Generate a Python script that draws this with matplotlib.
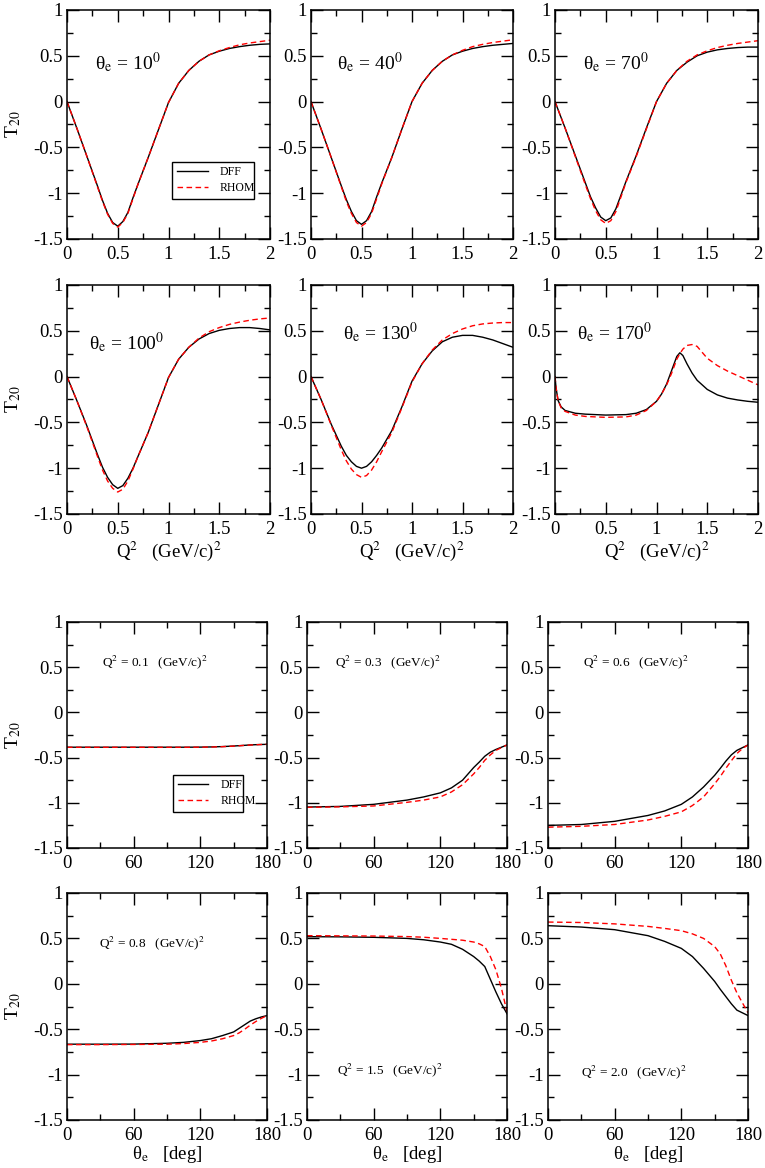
import matplotlib
matplotlib.use('Agg')
import matplotlib.pyplot as plt
from matplotlib.ticker import MultipleLocator, FormatStrFormatter

plt.rcParams['font.family'] = ['Liberation Serif', 'DejaVu Serif']
plt.rcParams['mathtext.fontset'] = 'stix'
plt.rcParams['axes.unicode_minus'] = False

# ---- data: T20 versus Q^2 at fixed electron angle ----
q2 = [0, 0.1, 0.2, 0.3, 0.35, 0.4, 0.45, 0.5, 0.55, 0.6, 0.65, 0.7, 0.8,
      0.9, 1.0, 1.1, 1.2, 1.3, 1.4, 1.5, 1.6, 1.7, 1.8, 1.9, 2.0]
q2_170 = [0, 0.01, 0.03, 0.06, 0.1, 0.2, 0.3, 0.5, 0.7, 0.8, 0.9, 1.0, 1.05,
          1.1, 1.15, 1.2, 1.23, 1.26, 1.3, 1.35, 1.4, 1.5, 1.6, 1.7, 1.8,
          1.9, 2.0]
theta_labels = ['10', '40', '70', '100', '130', '170']

dff_10 = [0, -0.30, -0.61, -0.92, -1.08, -1.22, -1.32, -1.36, -1.31, -1.21,
          -1.05, -0.90, -0.61, -0.31, -0.01, 0.20, 0.34, 0.44, 0.51, 0.55,
          0.58, 0.60, 0.615, 0.625, 0.63]
rhom_10 = [0, -0.30, -0.61, -0.93, -1.09, -1.23, -1.33, -1.37, -1.32, -1.22,
           -1.06, -0.90, -0.61, -0.31, -0.01, 0.20, 0.34, 0.44, 0.51, 0.555,
           0.59, 0.62, 0.64, 0.655, 0.67]
dff_40 = [0, -0.30, -0.61, -0.92, -1.07, -1.20, -1.30, -1.34, -1.30, -1.20,
          -1.04, -0.89, -0.61, -0.30, 0.0, 0.20, 0.34, 0.44, 0.51, 0.55, 0.58,
          0.60, 0.615, 0.625, 0.635]
rhom_40 = [0, -0.30, -0.61, -0.93, -1.09, -1.22, -1.32, -1.36, -1.32, -1.22,
           -1.06, -0.90, -0.61, -0.30, 0.0, 0.20, 0.34, 0.44, 0.51, 0.56, 0.60,
           0.625, 0.645, 0.66, 0.675]
dff_70 = [0, -0.29, -0.59, -0.89, -1.04, -1.16, -1.26, -1.30, -1.27, -1.17,
          -1.02, -0.87, -0.59, -0.29, 0.0, 0.20, 0.34, 0.43, 0.50, 0.54, 0.565,
          0.58, 0.59, 0.595, 0.595]
rhom_70 = [0, -0.29, -0.60, -0.91, -1.06, -1.19, -1.29, -1.33, -1.30, -1.20,
           -1.04, -0.88, -0.60, -0.30, 0.0, 0.20, 0.34, 0.44, 0.51, 0.555,
           0.59, 0.615, 0.635, 0.65, 0.665]
dff_100 = [0, -0.27, -0.55, -0.85, -0.99, -1.10, -1.18, -1.22, -1.19, -1.11,
           -1.00, -0.87, -0.61, -0.31, -0.01, 0.19, 0.32, 0.41, 0.47, 0.505,
           0.525, 0.535, 0.535, 0.525, 0.51]
rhom_100 = [0, -0.27, -0.56, -0.87, -1.02, -1.14, -1.22, -1.26, -1.23, -1.14,
            -1.01, -0.87, -0.61, -0.31, -0.01, 0.19, 0.32, 0.42, 0.49, 0.535,
            0.57, 0.595, 0.615, 0.63, 0.64]
dff_130 = [0, -0.25, -0.52, -0.76, -0.86, -0.93, -0.98, -1.0, -0.98, -0.93,
           -0.86, -0.78, -0.59, -0.33, -0.05, 0.14, 0.28, 0.38, 0.43, 0.45,
           0.45, 0.43, 0.40, 0.36, 0.32]
rhom_130 = [0, -0.25, -0.53, -0.80, -0.92, -1.01, -1.07, -1.10, -1.08, -1.02,
            -0.93, -0.82, -0.61, -0.34, -0.06, 0.14, 0.29, 0.40, 0.47, 0.52,
            0.555, 0.575, 0.585, 0.59, 0.59]
dff_170 = [0, -0.12, -0.26, -0.33, -0.37, -0.40, -0.41, -0.42, -0.415, -0.40,
           -0.36, -0.27, -0.19, -0.08, 0.07, 0.22, 0.26, 0.23, 0.14, 0.04,
           -0.04, -0.14, -0.20, -0.235, -0.255, -0.27, -0.28]
rhom_170 = [0, -0.12, -0.26, -0.34, -0.38, -0.42, -0.435, -0.445, -0.44, -0.42,
            -0.37, -0.27, -0.19, -0.09, 0.04, 0.19, 0.25, 0.30, 0.34, 0.35,
            0.33, 0.20, 0.12, 0.06, 0.01, -0.04, -0.09]

# ---- data: T20 versus electron angle at fixed Q^2 ----
theta = [0, 30, 60, 90, 105, 120, 130, 140, 150, 155, 160, 165, 170, 175, 180]
q2_labels = ['0.1', '0.3', '0.6', '0.8', '1.5', '2.0']

dff_q01 = [-0.385, -0.385, -0.385, -0.385, -0.385, -0.384, -0.382, -0.378,
           -0.372, -0.368, -0.364, -0.36, -0.357, -0.355, -0.353]
rhom_q01 = [-0.386, -0.386, -0.386, -0.386, -0.386, -0.385, -0.383, -0.379,
            -0.373, -0.369, -0.365, -0.361, -0.358, -0.355, -0.353]
dff_q03 = [-1.047, -1.04, -1.017, -0.97, -0.935, -0.89, -0.835, -0.75, -0.61,
           -0.55, -0.485, -0.44, -0.41, -0.385, -0.36]
rhom_q03 = [-1.05, -1.045, -1.035, -0.995, -0.97, -0.935, -0.88, -0.80, -0.68,
            -0.61, -0.53, -0.47, -0.42, -0.39, -0.36]
dff_q06 = [-1.25, -1.24, -1.205, -1.14, -1.09, -1.017, -0.935, -0.825, -0.696,
           -0.62, -0.54, -0.47, -0.42, -0.39, -0.36]
rhom_q06 = [-1.27, -1.26, -1.24, -1.19, -1.15, -1.10, -1.03, -0.935, -0.79,
            -0.71, -0.62, -0.535, -0.455, -0.40, -0.36]
dff_q08 = [-0.665, -0.665, -0.664, -0.655, -0.645, -0.625, -0.605, -0.57, -0.53,
           -0.49, -0.45, -0.41, -0.385, -0.365, -0.35]
rhom_q08 = [-0.67, -0.67, -0.668, -0.665, -0.658, -0.645, -0.63, -0.605, -0.57,
            -0.54, -0.50, -0.455, -0.415, -0.38, -0.35]
dff_q15 = [0.519, 0.517, 0.512, 0.50, 0.485, 0.46, 0.435, 0.38, 0.30, 0.25,
           0.19, 0.05, -0.09, -0.22, -0.33]
rhom_q15 = [0.53, 0.528, 0.526, 0.52, 0.513, 0.50, 0.49, 0.48, 0.46, 0.44,
            0.41, 0.30, 0.155, -0.05, -0.31]
dff_q20 = [0.64, 0.625, 0.596, 0.53, 0.467, 0.39, 0.30, 0.17, 0.026, -0.06,
           -0.14, -0.22, -0.29, -0.32, -0.35]
rhom_q20 = [0.68, 0.675, 0.66, 0.632, 0.61, 0.585, 0.55, 0.50, 0.41, 0.33,
            0.20, 0.04, -0.10, -0.21, -0.32]

W, H = 765, 1168


def make_axes(fig, x0, y0, x1, y1):
    return fig.add_axes([x0 / W, 1 - y1 / H, (x1 - x0) / W, (y1 - y0) / H])


def style(ax, xmax, xmajor, xminor):
    ax.set_xlim(0, xmax)
    ax.set_ylim(-1.5, 1)
    ax.xaxis.set_major_locator(MultipleLocator(xmajor))
    ax.xaxis.set_minor_locator(MultipleLocator(xminor))
    ax.yaxis.set_major_locator(MultipleLocator(0.5))
    ax.yaxis.set_minor_locator(MultipleLocator(0.25))
    ax.xaxis.set_major_formatter(FormatStrFormatter('%g'))
    ax.yaxis.set_major_formatter(FormatStrFormatter('%g'))
    ax.tick_params(which='both', direction='in', top=True, right=True,
                   width=1.0, labelsize=13.5)
    ax.tick_params(axis='x', pad=5)
    ax.tick_params(axis='y', pad=3)
    ax.tick_params(which='major', length=8.5)
    ax.tick_params(which='minor', length=4.5)
    for s in ax.spines.values():
        s.set_linewidth(1.1)


def curves(ax, x, dff, rhom):
    ax.plot(x, dff, color='black', lw=1.0, label='DFF')
    ax.plot(x, rhom, color='red', lw=1.0, ls=(0, (4, 2.5)), label='RHOM')


def add_legend(ax, box):
    leg = ax.legend(loc='lower left', bbox_to_anchor=box, mode='expand',
                    fontsize=8.5, frameon=True, fancybox=False,
                    edgecolor='black', framealpha=1, handlelength=2.6,
                    borderpad=0.4, labelspacing=0.3, handletextpad=1.0)
    leg.get_frame().set_linewidth(1.0)


fig = plt.figure(figsize=(W / 100, H / 100), dpi=100)

top_cols = [(67, 270), (311, 513), (555, 758)]
top_rows = [(10, 239), (285, 514)]
top_x = [q2, q2, q2, q2, q2, q2_170]
top_dff = [dff_10, dff_40, dff_70, dff_100, dff_130, dff_170]
top_rhom = [rhom_10, rhom_40, rhom_70, rhom_100, rhom_130, rhom_170]
top_txt = [(0.14, 0.77), (0.13, 0.77), (0.14, 0.77),
           (0.11, 0.75), (0.16, 0.79), (0.11, 0.79)]

for i in range(6):
    r, c = divmod(i, 3)
    ax = make_axes(fig, top_cols[c][0], top_rows[r][0],
                   top_cols[c][1], top_rows[r][1])
    curves(ax, top_x[i], top_dff[i], top_rhom[i])
    style(ax, 2, 0.5, 0.25)
    ax.text(top_txt[i][0], top_txt[i][1],
            r'θ$_\mathrm{e}$ = ' + theta_labels[i] + r'$^0$',
            transform=ax.transAxes, fontsize=14, va='center')
    if c == 0:
        ax.set_ylabel(r'T$_{20}$', fontsize=14)
        ax.yaxis.set_label_coords(-0.215, 0.5)
    if r == 1:
        ax.set_xlabel(r'Q$^2$   (GeV/c)$^2$', fontsize=13.5, labelpad=1)
    if i == 0:
        add_legend(ax, (0.49, 0.15, 0.46, 0.16))

bot_cols = [(67, 267), (307, 507), (548, 748)]
bot_rows = [(622, 848), (893, 1120)]
bot_dff = [dff_q01, dff_q03, dff_q06, dff_q08, dff_q15, dff_q20]
bot_rhom = [rhom_q01, rhom_q03, rhom_q06, rhom_q08, rhom_q15, rhom_q20]
bot_txt = [(0.175, 0.82), (0.14, 0.82), (0.175, 0.82),
           (0.16, 0.78), (0.15, 0.22), (0.165, 0.21)]

for i in range(6):
    r, c = divmod(i, 3)
    ax = make_axes(fig, bot_cols[c][0], bot_rows[r][0],
                   bot_cols[c][1], bot_rows[r][1])
    curves(ax, theta, bot_dff[i], bot_rhom[i])
    style(ax, 180, 60, 30)
    ax.text(bot_txt[i][0], bot_txt[i][1],
            r'Q$^2$ = ' + q2_labels[i] + r'   (GeV/c)$^2$',
            transform=ax.transAxes, fontsize=9.5, va='center')
    if c == 0:
        ax.set_ylabel(r'T$_{20}$', fontsize=14)
        ax.yaxis.set_label_coords(-0.22, 0.5)
    if r == 1:
        ax.set_xlabel(r'θ$_\mathrm{e}$   [deg]', fontsize=13.5, labelpad=0)
    if i == 0:
        add_legend(ax, (0.5, 0.135, 0.41, 0.155))

fig.savefig('out.png', dpi=100)
